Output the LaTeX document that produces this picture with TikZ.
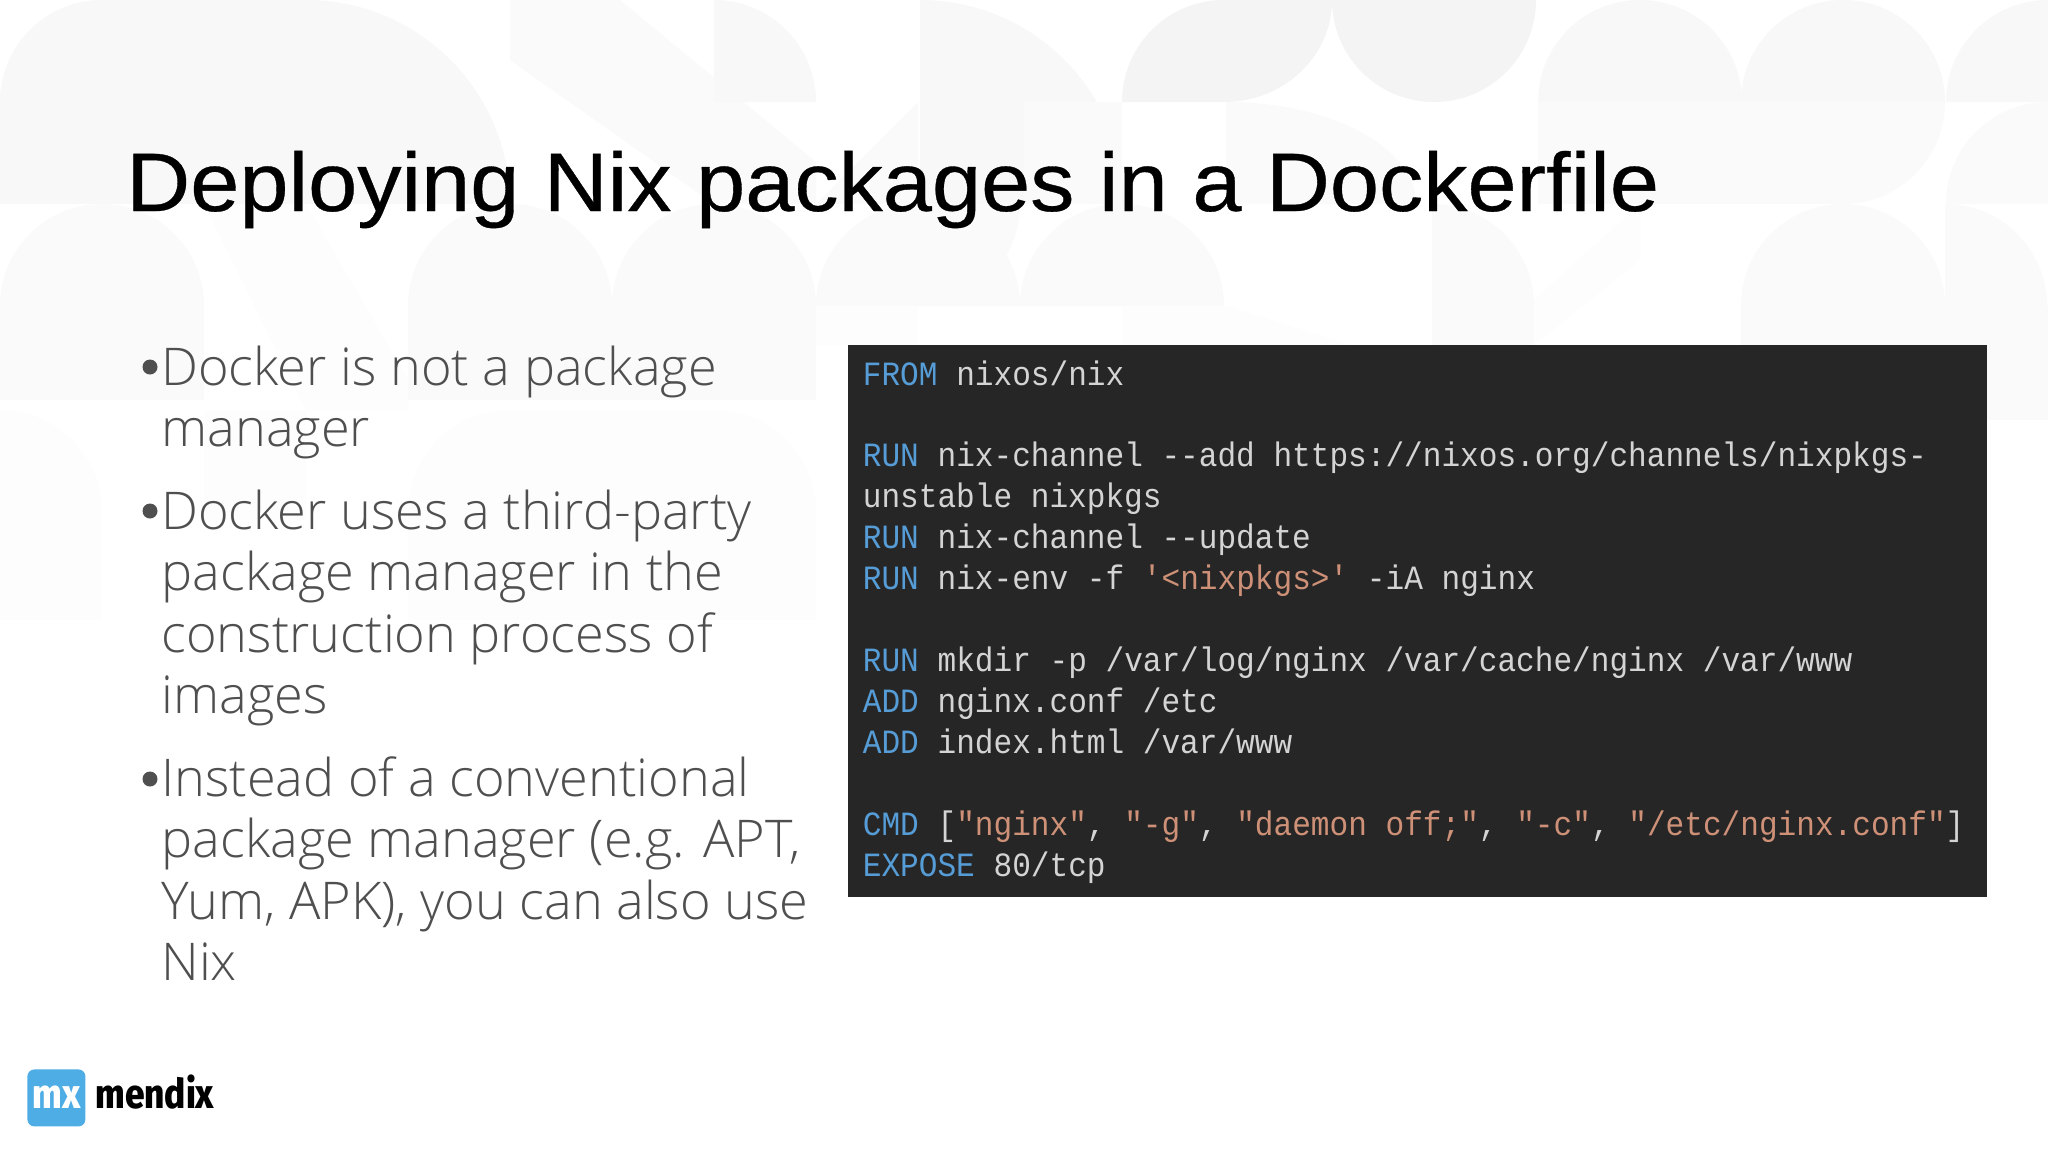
\documentclass[tikz,border=0pt]{standalone}
\usepackage{fontspec}
\setmainfont{Noto Sans}
\newfontfamily\titlef{Liberation Sans}[FakeStretch=1.065,FakeBold=0.4]
\newfontfamily\bodyf{Open Sans Light}[FakeStretch=1.005]
\newfontfamily\logof{Fira Sans ExtraBold}[FakeStretch=0.86]
\newfontfamily\codef{Liberation Mono}[FakeStretch=0.915]
\definecolor{cA}{HTML}{F4F4F4}
\definecolor{cB}{HTML}{F8F8F8}
\definecolor{cC}{HTML}{FAFAFA}
\definecolor{cD}{HTML}{FDFDFD}
\definecolor{kw}{HTML}{569CD6}
\definecolor{strc}{HTML}{CE9178}
\definecolor{plain}{HTML}{D4D4D4}
\definecolor{boxc}{HTML}{262626}
\definecolor{bodyc}{HTML}{4F4F4F}
\definecolor{mxblue}{HTML}{4FADE6}
\newcommand\quart[5]{\fill[#1] (#2,#3) -- ({#2+#4},#3) .. controls ({#2+#4},{#3+.5523*#5}) and ({#2+.5523*#4},{#3+#5}) .. (#2,{#3+#5}) -- cycle;}
\newcommand\bx[5]{\fill[#1] (#2,#3) rectangle (#4,#5);}
\newcommand\kwd[1]{\textcolor{kw}{#1}}
\newcommand\strg[1]{\textcolor{strc}{#1}}
\tikzset{
  titletext/.style={anchor=base west,inner sep=0pt,font=\titlef\fontsize{41.5}{41.5}\selectfont,text=black},
  bodytext/.style={anchor=base west,inner sep=0pt,font=\bodyf\fontsize{26}{26}\selectfont,text=bodyc},
  bulletdot/.style={circle,fill=bodyc,inner sep=0pt,minimum size=7.5pt},
  codetext/.style={anchor=base west,inner sep=0pt,font=\codef\fontsize{17}{17}\selectfont,text=plain},
  logotext/.style={anchor=base west,inner sep=0pt,font=\logof\fontsize{20.5}{20.5}\selectfont}
}
\begin{document}
\begin{tikzpicture}[x=0.5pt,y=-0.5pt]
\useasboundingbox (0,0) rectangle (2048,1152);
\fill[white] (0,0) rectangle (2048,1152);
% background pattern
\quart{cB}{102}{102}{-102}{-102}
\bx{cB}{102}{0}{204}{102}
\bx{cB}{0}{102}{204}{204}
\quart{cB}{306}{204}{204}{-204}
\bx{cB}{204}{0}{306}{204}
\fill[cC] (510,0) -- (620,0) -- (816,162) -- (816,204) -- (714,204) -- (510,60) -- cycle;
\quart{cB}{714}{102}{102}{-102}
\fill[cC] (816,204) -- (918,102) -- (918,204) -- cycle;
\quart{cB}{920}{204}{204}{-204}
\bx{cB}{920}{102}{1024}{204}
\quart{cC}{918}{204}{102}{102}
\quart{cA}{1224}{102}{-102}{-102}
\quart{cA}{1224}{0}{108}{102}
\quart{cA}{1434}{0}{-102}{102}
\quart{cA}{1434}{0}{102}{102}
\quart{cB}{1640}{102}{-102}{-102}
\quart{cB}{1640}{102}{102}{-102}
\bx{cC}{1538}{102}{1742}{204}
\quart{cB}{1843}{102}{-102}{-102}
\quart{cB}{1843}{102}{102}{-102}
\bx{cC}{1742}{102}{1843}{204}
\quart{cC}{1843}{102}{102}{102}
\quart{cB}{2048}{102}{-102}{-102}
\quart{cC}{2048}{204}{-102}{-102}
\quart{cC}{1226}{204}{190}{-102}
\bx{cC}{1024}{102}{1122}{204}
% second band
\quart{cC}{102}{306}{-102}{-102}
\quart{cC}{102}{306}{102}{-102}
\bx{cC}{0}{306}{204}{400}
\fill[cD] (204,204) -- (306,204) -- (408,380) -- (408,410) -- (306,410) -- cycle;
\quart{cC}{510}{306}{-102}{-102}
\quart{cC}{510}{306}{102}{-102}
\bx{cC}{408}{306}{612}{400}
\quart{cC}{714}{306}{-102}{-102}
\quart{cC}{714}{306}{102}{-102}
\bx{cC}{612}{306}{816}{400}
\quart{cC}{918}{306}{-102}{-102}
\quart{cC}{918}{306}{102}{-102}
\bx{cD}{816}{306}{918}{345}
\quart{cC}{1122}{306}{-102}{-102}
\quart{cC}{1122}{306}{102}{-102}
\fill[cD] (1122,306) -- (1226,306) -- (1350,345) -- (1122,345) -- cycle;
\quart{cC}{1432}{306}{102}{-102}
\bx{cC}{1432}{306}{1534}{345}
\fill[cD] (1640,204) -- (1640,260) -- (1534,345) -- (1534,300) -- cycle;
\quart{cC}{1843}{306}{-102}{-102}
\quart{cC}{1843}{306}{102}{-102}
\bx{cC}{1741}{306}{1945}{345}
\quart{cC}{1945}{306}{102}{-102}
\bx{cC}{1945}{306}{2048}{420}
% third band
\quart{cD}{510}{512}{-102}{-102}
\bx{cD}{510}{410}{714}{512}
\quart{cD}{714}{512}{102}{-102}
\bx{cD}{408}{512}{816}{620}
\quart{cD}{0}{512}{102}{-102}
\bx{cD}{0}{512}{102}{620}
\bx{cD}{204}{410}{306}{520}
% title
\node[titletext] (title) at (126,211) {Deploying Nix packages in a Dockerfile};
% bullets
\node[bulletdot] (b1) at (150,367) {};
\node[bodytext] (t1a) at (161,385) {Docker is not a package};
\node[bodytext] (t1b) at (161,446.5) {manager};
\node[bulletdot] (b2) at (150,511) {};
\node[bodytext] (t2a) at (161,529) {Docker uses a third-party};
\node[bodytext] (t2b) at (161,590.5) {package manager in the};
\node[bodytext] (t2c) at (161,652) {construction process of};
\node[bodytext] (t2d) at (161,713.5) {images};
\node[bulletdot] (b3) at (150,779) {};
\node[bodytext] (t3a) at (161,796) {Instead of a conventional};
\node[bodytext] (t3b) at (161,857.5) {package manager (e.g. APT,};
\node[bodytext] (t3c) at (161,919) {Yum, APK), you can also use};
\node[bodytext] (t3d) at (161,980.5) {Nix};
% code
\node[anchor=north west,fill=boxc,inner sep=0pt,minimum width=569.5pt,minimum height=276pt] (codebox) at (848,345) {};
\node[codetext] (c1) at (862.5,385) {\kwd{FROM} nixos/nix};
\node[codetext] (c2) at (862.5,466) {\kwd{RUN} nix-channel -{}-add https://nixos.org/channels/nixpkgs-};
\node[codetext] (c3) at (862.5,507) {unstable nixpkgs};
\node[codetext] (c4) at (862.5,548) {\kwd{RUN} nix-channel -{}-update};
\node[codetext] (c5) at (862.5,589) {\kwd{RUN} nix-env -f \strg{'<nixpkgs>'} -iA nginx};
\node[codetext] (c6) at (862.5,671) {\kwd{RUN} mkdir -p /var/log/nginx /var/cache/nginx /var/www};
\node[codetext] (c7) at (862.5,712) {\kwd{ADD} nginx.conf /etc};
\node[codetext] (c8) at (862.5,753) {\kwd{ADD} index.html /var/www};
\node[codetext] (c9) at (862.5,835) {\kwd{CMD} [\strg{"nginx"}, \strg{"-g"}, \strg{"daemon off;"}, \strg{"-c"}, \strg{"/etc/nginx.conf"}]};
\node[codetext] (c10) at (862.5,876) {\kwd{EXPOSE} 80/tcp};
% logo
\node[anchor=north west,fill=mxblue,rounded corners=3.5pt,inner sep=0pt,minimum width=29pt,minimum height=28.5pt] (logobox) at (27,1069) {};
\node[logotext,text=white] (logomx) at (32,1108) {mx};
\node[logotext,text=black] (logoname) at (95,1108) {mendix};
\end{tikzpicture}
\end{document}
